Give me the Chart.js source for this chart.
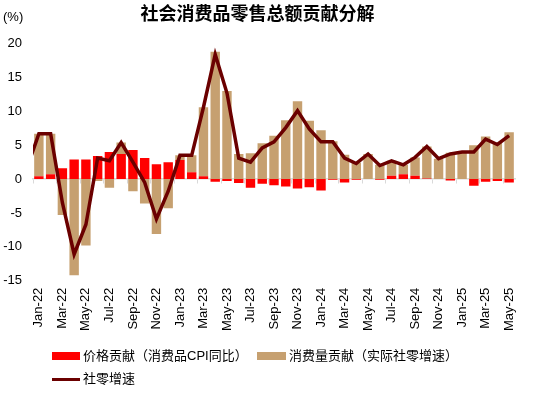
<!DOCTYPE html>
<html>
<head>
<meta charset="utf-8">
<script src="https://cdn.jsdelivr.net/npm/chart.js@4/dist/chart.umd.min.js"></script>
<style>
  html, body { margin: 0; padding: 0; background: #fff; }
  #wrap { position: relative; width: 539px; height: 397px; }
  .lg { position: absolute; font: 13px "Liberation Sans", "Noto Sans CJK SC", sans-serif; color: #000; line-height: 16px; white-space: nowrap; }
  .sw { position: absolute; }
</style>
</head>
<body>
<div id="wrap">
  <canvas id="chart"></canvas>
  <div class="sw" style="left:52px;top:352px;width:28px;height:8px;background:#FF0000"></div>
  <div class="lg" style="left:83px;top:348px">价格贡献（消费品CPI同比）</div>
  <div class="sw" style="left:257px;top:352px;width:29px;height:8px;background:#C6A070"></div>
  <div class="lg" style="left:289px;top:348px">消费量贡献（实际社零增速）</div>
  <div class="sw" style="left:52px;top:378px;width:28px;height:3px;background:#6B0000"></div>
  <div class="lg" style="left:83px;top:371px">社零增速</div>
</div>
<script>
// Dec-21 is only there so the line enters from the left edge, the axis starts at Jan-22
const months = ['Dec-21',
  'Jan-22','Feb-22','Mar-22','Apr-22','May-22','Jun-22','Jul-22','Aug-22','Sep-22','Oct-22','Nov-22','Dec-22',
  'Jan-23','Feb-23','Mar-23','Apr-23','May-23','Jun-23','Jul-23','Aug-23','Sep-23','Oct-23','Nov-23','Dec-23',
  'Jan-24','Feb-24','Mar-24','Apr-24','May-24','Jun-24','Jul-24','Aug-24','Sep-24','Oct-24','Nov-24','Dec-24',
  'Jan-25','Feb-25','Mar-25','Apr-25','May-25'];

// 价格贡献（消费品CPI同比）
const priceContrib = [null,
  0.4, 0.7, 1.6, 2.9, 2.9, 3.4, 4.0, 3.7, 4.3, 3.1, 2.2, 2.5,
  2.8, 1.0, 0.4, -0.4, -0.3, -0.6, -1.3, -0.7, -0.9, -1.1, -1.4, -1.2,
  -1.7, -0.1, -0.5, -0.1, 0.0, -0.1, 0.5, 0.7, 0.5, 0.1, 0.0, -0.2,
  0.0, -1.0, -0.4, -0.3, -0.5];

// 消费量贡献（实际社零增速）
const volumeContrib = [null,
  6.3, 6.0, -5.3, -14.2, -9.8, -0.3, -1.3, 1.7, -1.8, -3.6, -8.1, -4.3,
  0.7, 2.5, 10.2, 18.8, 13.0, 3.7, 3.8, 5.3, 6.4, 8.7, 11.5, 8.6,
  7.2, 5.6, 3.6, 2.4, 3.7, 2.1, 2.2, 1.4, 2.7, 4.7, 3.0, 3.9,
  4.0, 5.0, 6.3, 5.4, 6.9];

// 社零增速
const retailGrowth = [1.7,
  6.7, 6.7, -3.5, -11.1, -6.7, 3.1, 2.7, 5.4, 2.5, -0.5, -5.9, -1.8,
  3.5, 3.5, 10.6, 18.4, 12.7, 3.1, 2.5, 4.6, 5.5, 7.6, 10.1, 7.4,
  5.5, 5.5, 3.1, 2.3, 3.7, 2.0, 2.7, 2.1, 3.2, 4.8, 3.0, 3.7,
  4.0, 4.0, 5.9, 5.1, 6.4];

const yTicks = [-15, -10, -5, 0, 5, 10, 15, 20];

const labelFont = { family: '"Liberation Sans", Arial, sans-serif', size: 13 };

const unitLabel = {
  id: 'unitLabel',
  afterDraw(chart) {
    const ctx = chart.ctx;
    ctx.save();
    ctx.font = '13px "Liberation Sans", Arial, sans-serif';
    ctx.fillStyle = '#000';
    ctx.textBaseline = 'middle';
    ctx.textAlign = 'left';
    ctx.fillText('(%)', 3, 17);
    ctx.restore();
  }
};

new Chart(document.getElementById('chart'), {
  type: 'bar',
  data: {
    labels: months,
    datasets: [
      {
        type: 'line',
        label: '社零增速',
        data: retailGrowth,
        stack: 'line',
        borderColor: '#6B0000',
        borderWidth: 3.5,
        pointRadius: 0,
        tension: 0,
        order: 0
      },
      {
        label: '价格贡献（消费品CPI同比）',
        data: priceContrib,
        stack: 'bars',
        backgroundColor: '#FF0000',
        barPercentage: 0.8,
        categoryPercentage: 1,
        order: 1
      },
      {
        label: '消费量贡献（实际社零增速）',
        data: volumeContrib,
        stack: 'bars',
        backgroundColor: '#C6A070',
        barPercentage: 0.8,
        categoryPercentage: 1,
        order: 1
      }
    ]
  },
  options: {
    responsive: true,
    maintainAspectRatio: false,
    animation: false,
    layout: { padding: { left: 0, right: 24, top: 0, bottom: 59 } },
    plugins: {
      legend: { display: false },
      tooltip: { enabled: false },
      title: {
        display: true,
        text: '社会消费品零售总额贡献分解',
        color: '#000',
        font: { family: '"Noto Sans CJK SC", sans-serif', size: 18, weight: 'bold' },
        padding: { top: 2, bottom: 20 }
      }
    },
    scales: {
      x: {
        stacked: true,
        min: 'Jan-22',
        offset: true,
        grid: { display: false, drawTicks: false },
        border: { display: false },
        ticks: {
          autoSkip: false,
          maxRotation: 90,
          minRotation: 90,
          padding: 7,
          color: '#000',
          font: labelFont,
          callback: function (value, index) {
            return index % 2 === 0 ? this.getLabelForValue(value) : '';
          }
        }
      },
      x2: {
        type: 'category',
        position: { y: 0 },
        min: 'Jan-22',
        offset: true,
        grid: {
          offset: true,
          drawOnChartArea: false,
          drawTicks: true,
          tickLength: 4,
          color: ctx => ctx.index % 2 === 0 ? '#D9D9D9' : 'rgba(0,0,0,0)'
        },
        border: { display: true, color: '#D9D9D9', width: 1.5 },
        ticks: { display: false, autoSkip: false }
      },
      y: {
        stacked: true,
        min: -15,
        max: 20,
        afterFit: scale => { scale.width = 33; },
        afterBuildTicks: scale => { scale.ticks = yTicks.map(v => ({ value: v })); },
        grid: { display: false, drawTicks: false },
        border: { display: false },
        ticks: { padding: 11, color: '#000', font: labelFont }
      }
    }
  },
  plugins: [unitLabel]
});
</script>
</body>
</html>
